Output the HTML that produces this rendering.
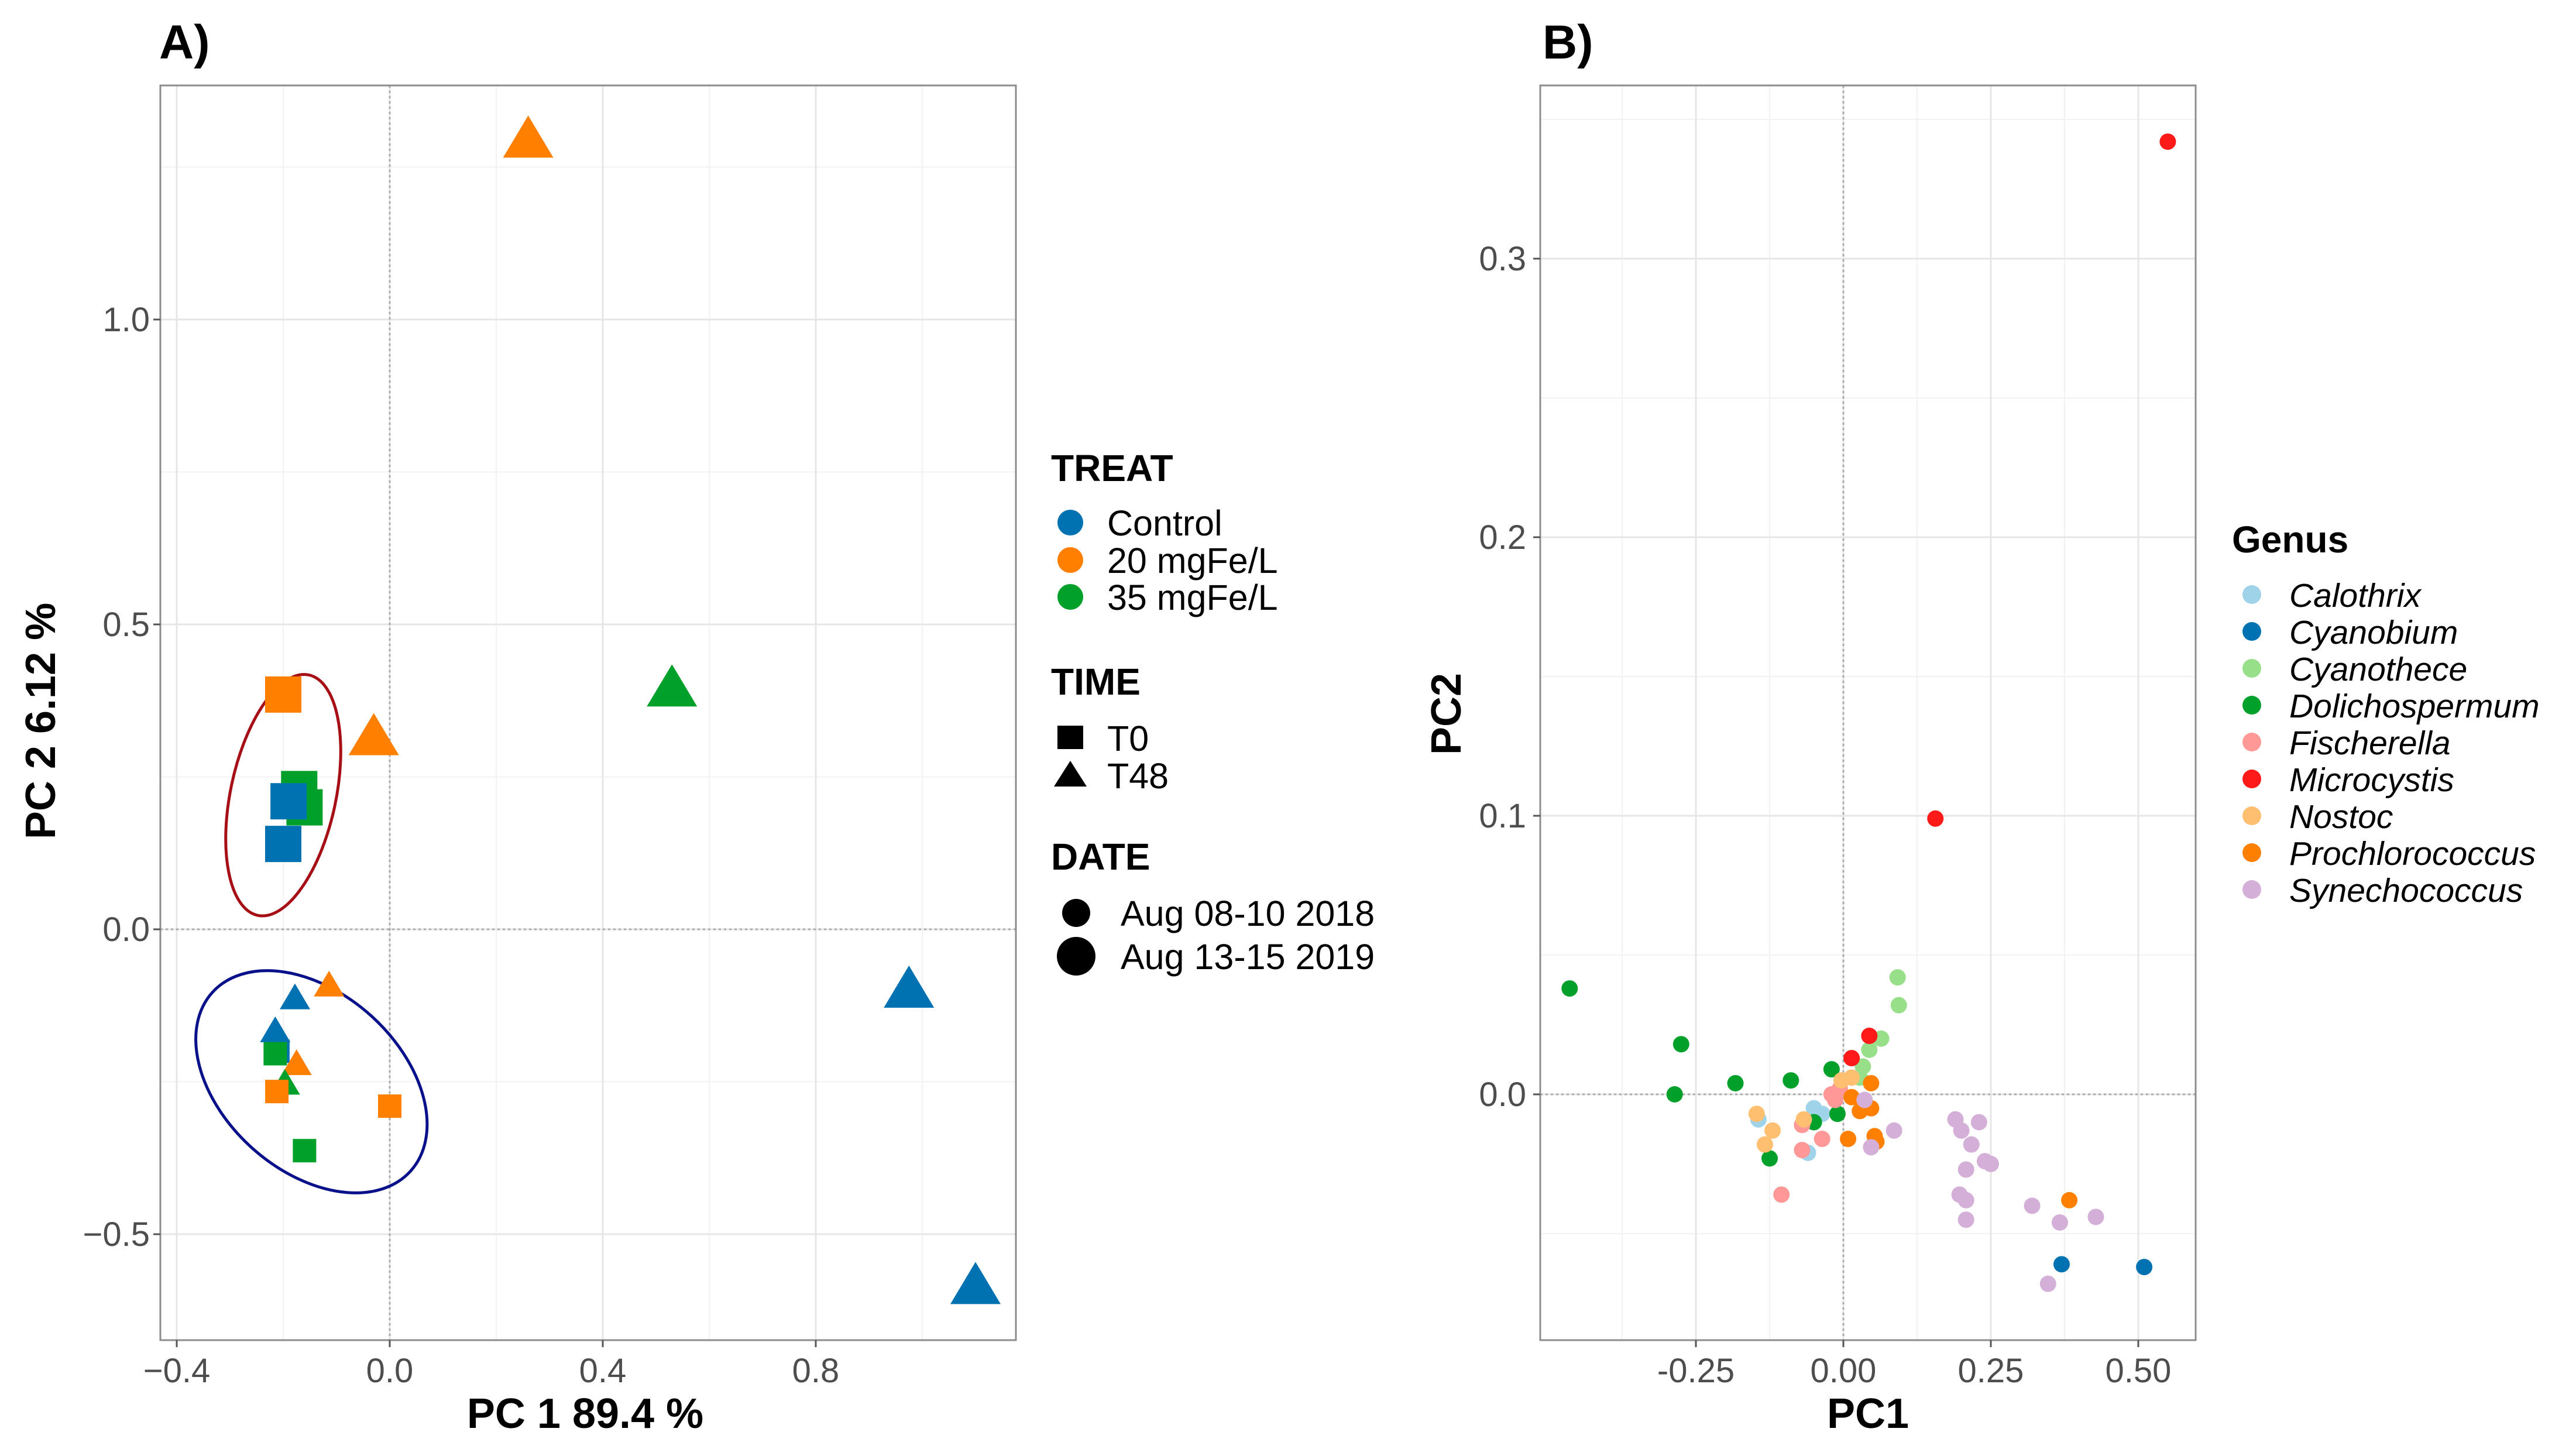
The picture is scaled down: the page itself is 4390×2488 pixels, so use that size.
<!DOCTYPE html>
<html><head><meta charset="utf-8"><style>
html,body{margin:0;padding:0;background:#fff}
svg{display:block;font-family:"Liberation Sans",sans-serif}
</style></head><body>
<svg id="fig" width="4390" height="2488" viewBox="0 0 4390 2488" xmlns="http://www.w3.org/2000/svg">
<rect width="4390" height="2488" fill="#fff"/>
<text x="272" y="100" font-size="82" font-weight="bold">A)</text>
<text x="2636" y="100" font-size="82" font-weight="bold">B)</text>
<g id="pa"></g>
<g id="pb"></g>
<text x="1000" y="2440" font-size="72" font-weight="bold" text-anchor="middle">PC 1  89.4 %</text>
<text transform="translate(94,1232) rotate(-90)" font-size="72" font-weight="bold" text-anchor="middle">PC 2  6.12 %</text>
<text x="3192" y="2440" font-size="72" font-weight="bold" text-anchor="middle">PC1</text>
<text transform="translate(2496,1220) rotate(-90)" font-size="72" font-weight="bold" text-anchor="middle">PC2</text>
<g>
<text x="1796" y="822" font-size="64" font-weight="bold">TREAT</text>
<circle cx="1829" cy="893" r="22" fill="#0072b2"/><text x="1892" y="915" font-size="61">Control</text>
<circle cx="1829" cy="957" r="22" fill="#ff7f00"/><text x="1892" y="979" font-size="61">20 mgFe/L</text>
<circle cx="1829" cy="1020" r="22" fill="#00a02a"/><text x="1892" y="1042" font-size="61">35 mgFe/L</text>
</g>
<g>
<text x="1796" y="1187" font-size="64" font-weight="bold">TIME</text>
<rect x="1807" y="1240" width="44" height="40" fill="#000"/><text x="1892" y="1283" font-size="61">T0</text>
<polygon points="1801,1344 1857,1344 1829,1300" fill="#000"/><text x="1892" y="1347" font-size="61">T48</text>
</g>
<g>
<text x="1796" y="1486" font-size="64" font-weight="bold">DATE</text>
<circle cx="1839" cy="1560" r="24" fill="#000"/><text x="1915" y="1582" font-size="61">Aug 08-10 2018</text>
<circle cx="1839" cy="1634" r="33" fill="#000"/><text x="1915" y="1656" font-size="61">Aug 13-15 2019</text>
</g>
<g id="lb">
<text x="3814" y="944" font-size="64" font-weight="bold">Genus</text>
</g>
</svg>
<script>
// Panel A data
const aX=[0.26,-0.03,0.53,0.975,1.10,-0.20,-0.17,-0.16,-0.19,-0.20,-0.114,-0.178,-0.215,-0.21,-0.215,-0.175,-0.197,-0.212,0.0,-0.16];
const aY=[1.30,0.32,0.40,-0.094,-0.58,0.385,0.23,0.20,0.21,0.14,-0.089,-0.11,-0.164,-0.20,-0.204,-0.218,-0.25,-0.266,-0.29,-0.363];
const aTreat=['20','20','35','C','C','20','35','35','C','C','20','C','C','C','35','20','35','20','20','35'];
const aTime=['T48','T48','T48','T48','T48','T0','T0','T0','T0','T0','T48','T48','T48','T0','T0','T48','T48','T0','T0','T0'];
const aBig=[1,1,1,1,1,1,1,1,1,1,0,0,0,0,0,0,0,0,0,0];
const aXTicks=[-0.4,0.0,0.4,0.8];
const aYTicks=[-0.5,0.0,0.5,1.0];
// Panel B data
const genera=['Calothrix','Cyanobium','Cyanothece','Dolichospermum','Fischerella','Microcystis','Nostoc','Prochlorococcus','Synechococcus'];
const genusColors=['#9fd3ea','#0072b2','#98df8a','#00a02a','#ff9896','#ff1a1a','#ffbf70','#ff7f00','#d4b0d8'];
const bX=[[-0.05,-0.06,-0.144,-0.036],[0.37,0.51],[0.092,0.094,0.064,0.044,0.033,0.028],[-0.464,-0.275,-0.286,-0.183,-0.089,-0.125,-0.02,-0.01,-0.05],[-0.105,-0.07,-0.07,-0.036,-0.014,-0.006,-0.02],[0.55,0.156,0.044,0.014],[-0.147,-0.12,-0.133,-0.067,0.014,-0.003],[0.047,0.047,0.008,0.053,0.056,0.383,0.014,0.028],[0.19,0.2,0.23,0.217,0.24,0.25,0.208,0.197,0.208,0.208,0.32,0.367,0.428,0.347,0.086,0.036,0.047]];
const bY=[[-0.005,-0.021,-0.009,-0.007],[-0.061,-0.062],[0.042,0.032,0.02,0.016,0.01,0.006],[0.038,0.018,0.0,0.004,0.005,-0.023,0.009,-0.007,-0.01],[-0.036,-0.011,-0.02,-0.016,-0.002,0.002,0],[0.342,0.099,0.021,0.013],[-0.007,-0.013,-0.018,-0.009,0.006,0.005],[0.004,-0.005,-0.016,-0.015,-0.017,-0.038,-0.001,-0.006],[-0.009,-0.013,-0.01,-0.018,-0.024,-0.025,-0.027,-0.036,-0.038,-0.045,-0.04,-0.046,-0.044,-0.068,-0.013,-0.002,-0.019]];
const bXTicks=[-0.25,0.0,0.25,0.5];
const bXLabels=['-0.25','0.00','0.25','0.50'];
const bYTicks=[0.0,0.1,0.2,0.3];

const NS='http://www.w3.org/2000/svg';
function mk(p,tag,at){const e=document.createElementNS(NS,tag);for(const k in at)e.setAttribute(k,at[k]);p.appendChild(e);return e;}
const treatCol={C:'#0072b2','20':'#ff7f00','35':'#00a02a'};

const AL=274,AR=1736,AT=146,AB=2290;
const ax=v=>666+v*910, ay=v=>1588-v*1042;
const BL=2632,BR=3752;
const bx=v=>3150+v*1008, by=v=>1870-v*4760;

function grid(g,L,R,T,B,xs,ys,xmin,ymin){
  xmin.forEach(v=>{const l=mk(g,'line',{x1:v,x2:v,y1:T,y2:B,stroke:'#f2f2f2','stroke-width':2});});
  ymin.forEach(v=>{const l=mk(g,'line',{x1:L,x2:R,y1:v,y2:v,stroke:'#f2f2f2','stroke-width':2});});
  xs.forEach(v=>{const l=mk(g,'line',{x1:v,x2:v,y1:T,y2:B,stroke:'#e6e6e6','stroke-width':3});});
  ys.forEach(v=>{const l=mk(g,'line',{x1:L,x2:R,y1:v,y2:v,stroke:'#e6e6e6','stroke-width':3});});
}
const pa=document.getElementById('pa'), pb=document.getElementById('pb');
grid(pa,AL,AR,AT,AB,aXTicks.map(ax),aYTicks.map(ay),[-0.2,0.2,0.6,1.0].map(ax),[-0.25,0.25,0.75,1.25].map(ay));
grid(pb,BL,BR,AT,AB,bXTicks.map(bx),bYTicks.map(by),[-0.375,-0.125,0.125,0.375].map(bx),[-0.05,0.05,0.15,0.25,0.35].map(by));
[[pa,ax(0),ay(0),AL,AR],[pb,bx(0),by(0),BL,BR]].forEach(([g,x0,y0,L,R])=>{
  const v=mk(g,'line',{x1:x0,x2:x0,y1:AT,y2:AB,stroke:'#aaa','stroke-width':3,'stroke-dasharray':'4,5'});
  
  const h=mk(g,'line',{x1:L,x2:R,y1:y0,y2:y0,stroke:'#aaa','stroke-width':3,'stroke-dasharray':'4,5'});
  
});
const e1=mk(pa,'ellipse',{cx:ax(-0.2),cy:ay(0.22),rx:90,ry:210,transform:`rotate(12 ${ax(-0.2)} ${ay(0.22)})`,fill:'none',stroke:'#a50f15','stroke-width':5});

const e2=mk(pa,'ellipse',{cx:ax(-0.147),cy:ay(-0.25),rx:228,ry:152,transform:`rotate(42 ${ax(-0.147)} ${ay(-0.25)})`,fill:'none',stroke:'#08108a','stroke-width':5});

aX.forEach((v,i)=>{
  const x=ax(v),y=ay(aY[i]),c=treatCol[aTreat[i]];let el;
  if(aTime[i]==='T0'){const s=aBig[i]?62:40;el=mk(pa,'rect',{x:x-s/2,y:y-s/2,width:s,height:s,fill:c});}
  else{const w=aBig[i]?86:52,h=aBig[i]?72:44;el=mk(pa,'polygon',{points:`${x-w/2},${y+h/2} ${x+w/2},${y+h/2} ${x},${y-h/2}`,fill:c});}
  
  
});
genera.forEach((g,gi)=>{bX[gi].forEach((v,j)=>{
  const el=mk(pb,'circle',{cx:bx(v),cy:by(bY[gi][j]),r:14,fill:genusColors[gi]});
  
  
});});
[[pa,AL,AR],[pb,BL,BR]].forEach(([g,L,R])=>{const r=mk(g,'rect',{x:L,y:AT,width:R-L,height:AB-AT,fill:'none',stroke:'#8c8c8c','stroke-width':3});});
function tick(g,x1,y1,x2,y2){const t=mk(g,'line',{x1,y1,x2,y2,stroke:'#555','stroke-width':3});}
function lab(g,x,y,txt,anc){const t=mk(g,'text',{x,y,'font-size':58,fill:'#4d4d4d','text-anchor':anc});t.textContent=txt;}
const fmt=v=>(v<0?'\u2212':'')+Math.abs(v).toFixed(1);
aXTicks.forEach(v=>{tick(pa,ax(v),AB,ax(v),AB+12);lab(pa,ax(v),2362,fmt(v),'middle');});
aYTicks.forEach(v=>{tick(pa,AL-12,ay(v),AL,ay(v));lab(pa,256,ay(v)+20,fmt(v),'end');});
bXTicks.forEach((v,i)=>{tick(pb,bx(v),AB,bx(v),AB+12);lab(pb,bx(v),2362,bXLabels[i],'middle');});
bYTicks.forEach(v=>{tick(pb,BL-12,by(v),BL,by(v));lab(pb,2608,by(v)+20,v.toFixed(1),'end');});
const lb=document.getElementById('lb');
genera.forEach((g,i)=>{
  const y=1016+i*63;
  const c=mk(lb,'circle',{cx:3848,cy:y,r:16,fill:genusColors[i]});
  
  const t=mk(lb,'text',{x:3912,y:y+21,'font-size':57,'font-style':'italic'});t.textContent=g;
  
});
</script>
</body></html>
